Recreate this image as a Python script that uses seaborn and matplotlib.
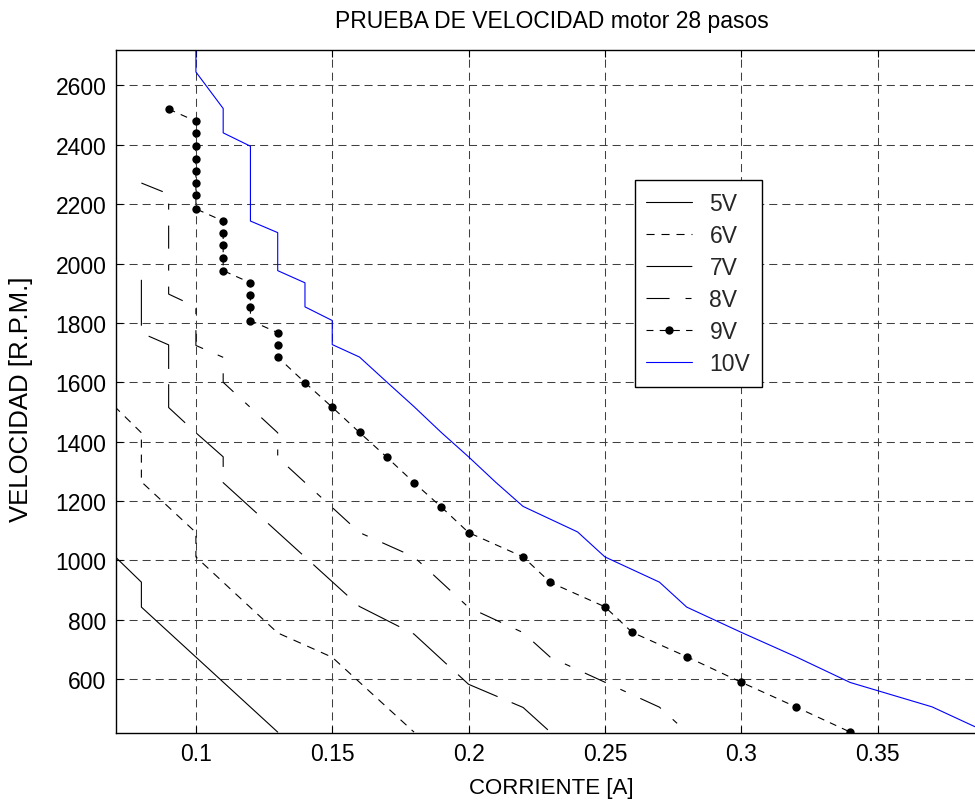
import matplotlib
matplotlib.use("Agg")
import matplotlib.pyplot as plt
import seaborn as sns
import pandas as pd

# Corriente consumida [A] y velocidad medida [R.P.M.] para cada tension
i_5v = [0.07, 0.08, 0.08, 0.13]
rpm_5v = [1016, 927, 843, 422]

i_6v = [0.07, 0.08, 0.08, 0.10, 0.10, 0.13, 0.15, 0.18]
rpm_6v = [1520, 1430, 1265, 1094, 1012, 756, 674, 422]

i_7v = [0.08, 0.08, 0.09, 0.09, 0.10, 0.11, 0.11, 0.16, 0.18, 0.20, 0.22, 0.23]
rpm_7v = [1945, 1766, 1726, 1515, 1430, 1349, 1262, 845, 752, 583, 505, 422]

i_8v = [0.08, 0.09, 0.09, 0.10, 0.10, 0.11, 0.11, 0.13, 0.13, 0.16, 0.18,
        0.20, 0.22, 0.23, 0.27, 0.28]
rpm_8v = [2271, 2234, 1897, 1854, 1724, 1684, 1600, 1430, 1347, 1094, 1012,
          842, 757, 674, 506, 422]

i_9v = [0.09, 0.10, 0.10, 0.10, 0.10, 0.10, 0.10, 0.10, 0.10,
        0.11, 0.11, 0.11, 0.11, 0.11, 0.12, 0.12, 0.12, 0.12,
        0.13, 0.13, 0.13, 0.14, 0.15, 0.16, 0.17, 0.18, 0.19, 0.20,
        0.22, 0.23, 0.25, 0.26, 0.28, 0.30, 0.32, 0.34]
rpm_9v = [2520, 2479, 2439, 2395, 2353, 2312, 2271, 2231, 2184,
          2143, 2102, 2062, 2017, 1976, 1935, 1894, 1853, 1808,
          1767, 1726, 1685, 1599, 1516, 1431, 1348, 1262, 1180, 1094,
          1012, 926, 844, 758, 676, 590, 507, 422]

i_10v = [0.10, 0.10, 0.11, 0.11, 0.12, 0.12, 0.13, 0.13, 0.14, 0.14, 0.15,
         0.15, 0.16, 0.17, 0.18, 0.19, 0.20, 0.21, 0.22, 0.24, 0.25, 0.27,
         0.28, 0.30, 0.32, 0.34, 0.37, 0.39]
rpm_10v = [2720, 2645, 2522, 2440, 2395, 2143, 2104, 1976, 1935, 1854, 1808,
           1727, 1685, 1601, 1518, 1431, 1349, 1263, 1182, 1096, 1012, 927,
           843, 758, 676, 589, 507, 422]

labels = ["5V", "6V", "7V", "8V", "9V", "10V"]
x_ticks = [0.1, 0.15, 0.2, 0.25, 0.3, 0.35]
x_tick_labels = ["0.1", "0.15", "0.2", "0.25", "0.3", "0.35"]
y_ticks = [600, 800, 1000, 1200, 1400, 1600, 1800, 2000, 2200, 2400, 2600]

series = [(i_5v, rpm_5v), (i_6v, rpm_6v), (i_7v, rpm_7v),
          (i_8v, rpm_8v), (i_9v, rpm_9v), (i_10v, rpm_10v)]

# estilo de trazo de cada curva (dash en puntos)
styles = {
    "5V": dict(color="black", dashes=None, marker=None),
    "6V": dict(color="black", dashes=(5.8, 5.0), marker=None),
    "7V": dict(color="black", dashes=(33.0, 11.0), marker=None),
    "8V": dict(color="black", dashes=(16.6, 11.5, 4.3, 11.5), marker=None),
    "9V": dict(color="black", dashes=(5.0, 4.5), marker="o"),
    "10V": dict(color="#0000ff", dashes=None, marker=None),
}

sns.set_theme(style="white")
plt.rcParams["font.family"] = ["Liberation Sans", "DejaVu Sans"]
plt.rcParams["lines.scale_dashes"] = False
FS = 16.5

W, H = 975, 803
fig = plt.figure(figsize=(W / 100, H / 100), dpi=100)
left, right, top, bottom = 116.3, 986.6, 50.7, 733.7
ax = fig.add_axes([left / W, (H - bottom) / H, (right - left) / W, (bottom - top) / H])

handles = []
for lab, (cur, rpm) in zip(labels, series):
    df = pd.DataFrame({"corriente": cur, "rpm": rpm})
    n_before = len(ax.lines)
    st = styles[lab]
    sns.lineplot(data=df, x="corriente", y="rpm", estimator=None, sort=False,
                 ax=ax, color=st["color"], linewidth=0.8)
    line = ax.lines[n_before]
    if st["dashes"] is not None:
        line.set_dashes(st["dashes"])
    if st["marker"]:
        line.set_marker(st["marker"])
        line.set_markersize(6.0)
        line.set_markerfacecolor("black")
        line.set_markeredgewidth(0)
    line.set_label(lab)
    handles.append(line)

ax.set_xlim(0.0708, 0.39)
ax.set_ylim(420, 2720)
ax.set_xticks(x_ticks)
ax.set_xticklabels(x_tick_labels)
ax.set_yticks(y_ticks)

ax.grid(True, color="0.25", linewidth=0.75, linestyle=(0, (5.8, 3.6)))
ax.set_axisbelow(True)
for sp in ax.spines.values():
    sp.set_color("black")
    sp.set_linewidth(1.0)

ax.tick_params(axis="both", which="both", direction="in", length=5, width=0.8,
               color="black", labelsize=FS, labelcolor="black",
               top=True, right=True, bottom=True, left=True, pad=7)

ax.set_xlabel("CORRIENTE [A]", fontsize=16, color="black", labelpad=8)
ax.set_ylabel("VELOCIDAD [R.P.M.]", fontsize=18.5, color="black")
ax.yaxis.set_label_coords(-0.096, 0.489)
ax.set_title("PRUEBA DE VELOCIDAD motor 28 pasos", fontsize=FS, color="black", pad=16)

leg = ax.legend(handles=handles, labels=labels, loc="upper left",
                bbox_to_anchor=(0.596, 0.809), borderaxespad=0, frameon=True,
                fancybox=False, framealpha=1, edgecolor="black", fontsize=FS,
                handlelength=2.0, handletextpad=0.75, labelspacing=0.4,
                borderpad=0.5)
leg.get_frame().set_linewidth(1.0)

fig.savefig("out.png", dpi=100, facecolor="white")
